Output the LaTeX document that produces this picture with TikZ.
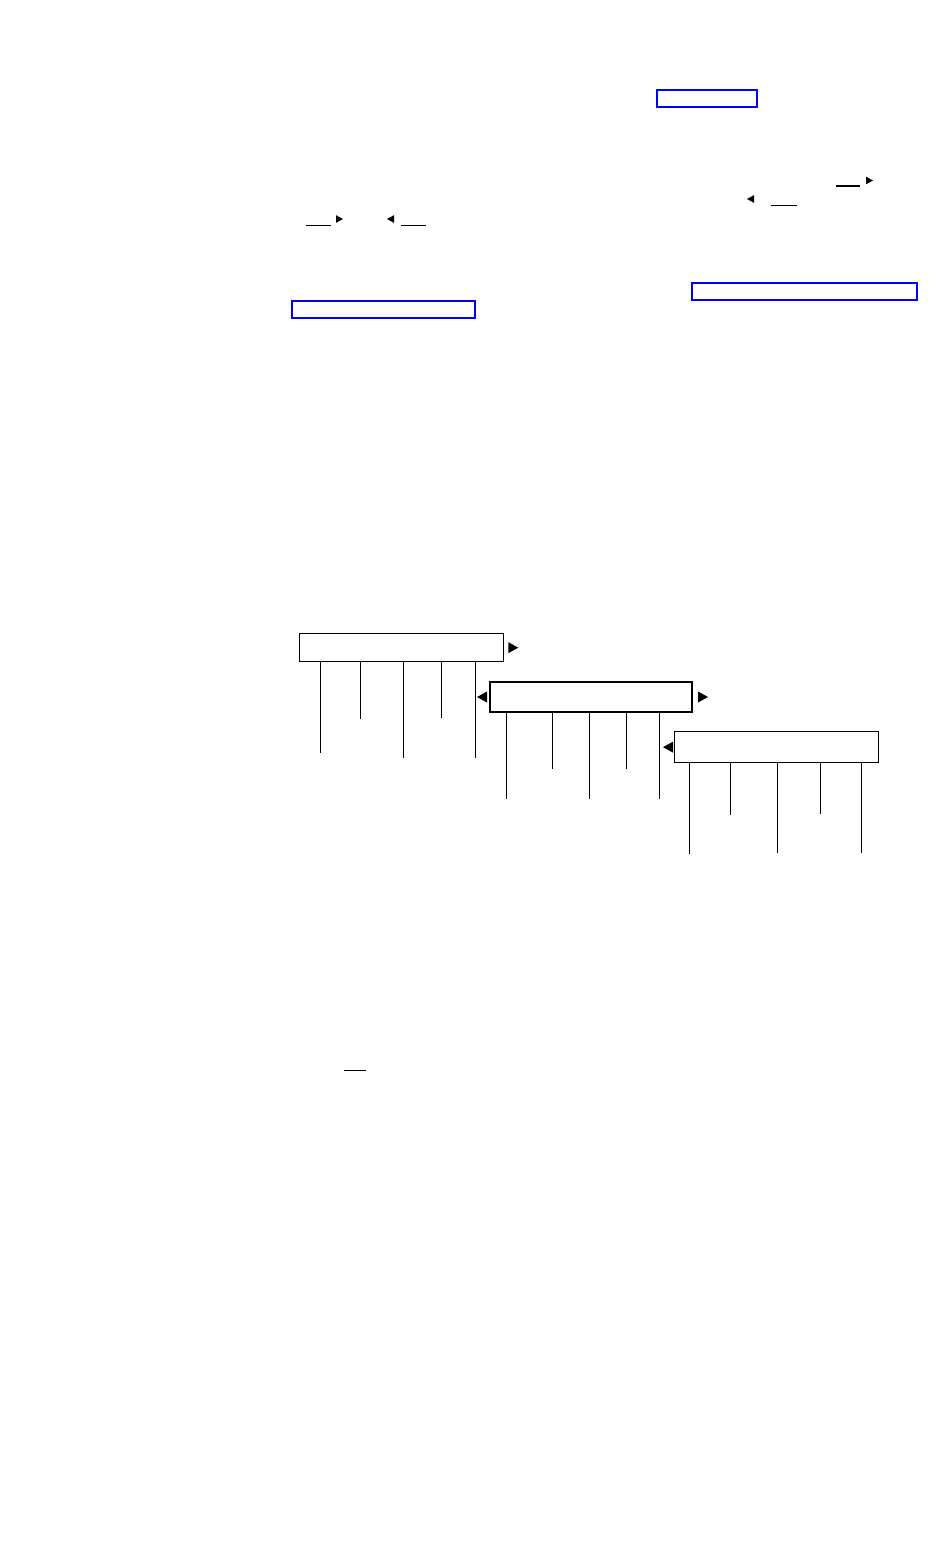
\documentclass[tikz,border=0pt]{standalone}
\usetikzlibrary{positioning}
\tikzset{
  bar/.style={draw, fill=white, line width=1.3pt, inner sep=0pt, anchor=north west},
  linkbox/.style={draw=blue, line width=1.8pt},
  tick/.style={line width=1pt},
}
\def\rtri{(0,-5.5) -- (10,0) -- (0,5.5) -- cycle}
\def\ltri{(0,-5.5) -- (-10,0) -- (0,5.5) -- cycle}
\begin{document}
\begin{tikzpicture}[x=1pt,y=-1pt]
  \useasboundingbox (0,0) rectangle (951,1558);
  % links in the text
  \draw [linkbox] (657,90) rectangle (757,107);
  \draw [linkbox] (692,283) rectangle (917,300);
  \draw [linkbox] (292,301) rectangle (475,318);
  % small marks in the text
  \draw [line width=1.6pt] (836,186) -- (860,186);
  \fill [shift={(866,180.5)},scale=0.7]\rtri;
  \fill [shift={(754,199)},scale=0.7]\ltri;
  \draw [tick] (771,205) -- (797,205);
  \draw [tick] (306,225) -- (331,225);
  \fill [shift={(336,219)},scale=0.7]\rtri;
  \fill [shift={(394,219)},scale=0.7]\ltri;
  \draw [tick] (401,225) -- (426,225);
  \draw [tick] (344,1070) -- (366,1070);
  % the three bars
  \node [bar, minimum width=204pt, minimum height=28pt] (b1) at (299,633) {};
  \node [bar, line width=2pt, minimum width=202pt, minimum height=30pt] (b2) at (489,681) {};
  \node [bar, minimum width=204pt, minimum height=31pt] (b3) at (674,731) {};
  \fill [shift={(b1.east)}, xshift=4pt]\rtri;
  \fill [shift={(b2.west)}, xshift=-2pt]\ltri;
  \fill [shift={(b2.east)}, xshift=5pt]\rtri;
  \fill [shift={(b3.west)}, xshift=-1pt]\ltri;
  % ticks under the bars
  \foreach \dx/\len in {21/91, 61/57, 104/96, 142/56, 176/96}
    \draw [tick] ([xshift=\dx pt]b1.south west) -- ++(0,\len);
  \foreach \dx/\len in {17/86, 63/56, 100/86, 137/56, 170/86}
    \draw [tick] ([xshift=\dx pt]b2.south west) -- ++(0,\len);
  \foreach \dx/\len in {15/91, 56/52, 103/90, 146/51, 187/90}
    \draw [tick] ([xshift=\dx pt]b3.south west) -- ++(0,\len);
\end{tikzpicture}
\end{document}
